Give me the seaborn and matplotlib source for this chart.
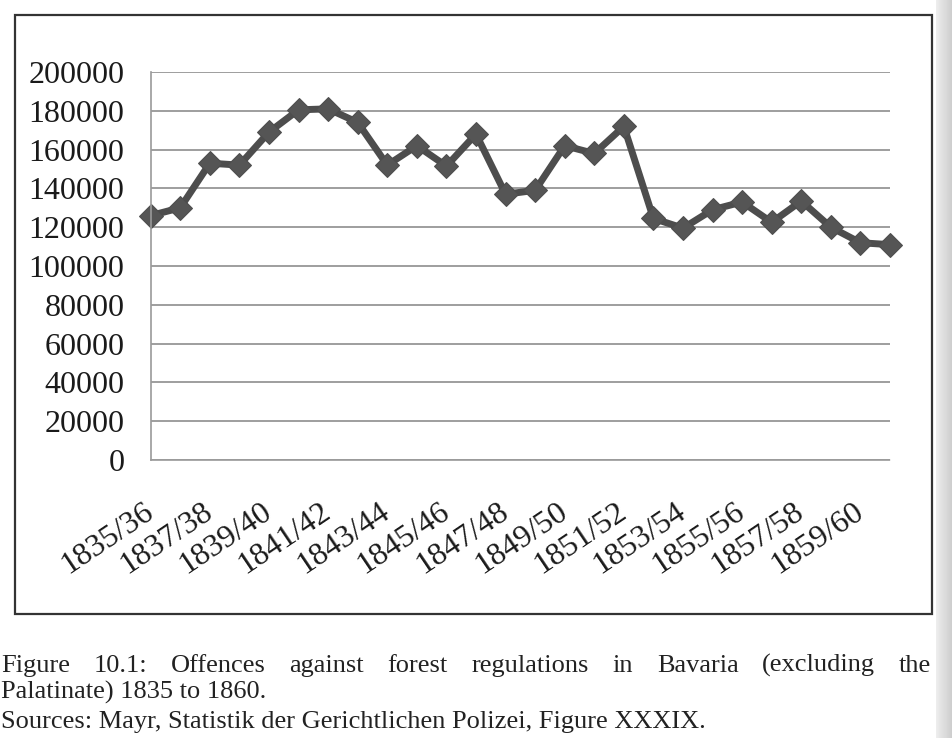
import numpy as np
import pandas as pd
import matplotlib
matplotlib.use("Agg")
import matplotlib.pyplot as plt
import matplotlib.transforms as mtransforms
import seaborn as sns

# ---- data -------------------------------------------------------------
periods = ["1835/36", "1836/37", "1837/38", "1838/39", "1839/40", "1840/41",
           "1841/42", "1842/43", "1843/44", "1844/45", "1845/46", "1846/47",
           "1847/48", "1848/49", "1849/50", "1850/51", "1851/52", "1852/53",
           "1853/54", "1854/55", "1855/56", "1856/57", "1857/58", "1858/59",
           "1859/60", "1860/61"]
offences = [126000, 130000, 153000, 152000, 169000, 180500, 181000, 174000,
            152000, 162000, 151500, 168000, 137000, 139000, 162000, 158000,
            172000, 124500, 119500, 129000, 133000, 122500, 133500, 120000,
            112000, 111000]
y_ticks = [0, 20000, 40000, 60000, 80000, 100000, 120000, 140000, 160000,
           180000, 200000]
caption_line1 = ("Figure 10.1: Offences against forest regulations in Bavaria "
                 "(excluding the")
caption_line2 = "Palatinate) 1835 to 1860."
caption_line3 = "Sources: Mayr, Statistik der Gerichtlichen Polizei, Figure XXXIX."

# ---- style ------------------------------------------------------------
sns.set_style("white")
plt.rcParams["font.family"] = ["Liberation Serif", "DejaVu Serif"]

W, H = 953, 738
fig = plt.figure(figsize=(W / 100, H / 100), dpi=100)
fig.patch.set_facecolor("white")

def fx(px):
    return px / W

def fy(py):
    return 1 - py / H

# chart frame
frame = plt.Rectangle((fx(15), fy(614)), fx(932) - fx(15), fy(15) - fy(614),
                      transform=fig.transFigure, fill=False,
                      edgecolor="#333333", linewidth=1.6)
fig.add_artist(frame)

left, right, top, bottom = 150.7, 890, 72, 460
ax = fig.add_axes([fx(left), fy(bottom), fx(right) - fx(left), fy(top) - fy(bottom)])
ax.set_facecolor("none")

df = pd.DataFrame({"period": np.arange(len(periods)), "offences": offences})
sns.lineplot(data=df, x="period", y="offences", ax=ax, color="#4d4d4d",
             linewidth=5, marker="D", markersize=12,
             markeredgecolor="#4d4d4d", markerfacecolor="#555555")
for ln in ax.lines:
    ln.set_clip_on(False)

ax.set_xlim(0, len(periods) - 1)
ax.set_ylim(0, 200000)
ax.set_yticks(y_ticks)
ax.set_yticklabels([str(v) for v in y_ticks])
ax.set_xticks(np.arange(len(periods)))
ax.set_xticklabels([p if i % 2 == 0 else "" for i, p in enumerate(periods)],
                   rotation=34, ha="right", va="top", rotation_mode="anchor")
ax.set_xlabel("")
ax.set_ylabel("")

ax.yaxis.grid(True, color="#969696", linewidth=1.3)
ax.xaxis.grid(False)
ax.set_axisbelow(True)
for s in ["top", "right"]:
    ax.spines[s].set_visible(False)
ax.spines["left"].set_color("#9a9a9a")
ax.spines["left"].set_linestyle((0, (1, 1)))
ax.spines["left"].set_linewidth(1.2)
ax.spines["bottom"].set_color("#9a9a9a")
ax.spines["bottom"].set_linestyle((0, (1, 1)))
ax.spines["bottom"].set_linewidth(1.2)

ax.tick_params(axis="y", direction="out", length=7, width=1.2, color="#9a9a9a",
               labelsize=23, pad=12, labelcolor="#1a1a1a")
ax.tick_params(axis="x", direction="out", length=9, width=1.0, color="#7a7a7a",
               labelsize=23, pad=18, labelcolor="#1a1a1a")
shift = mtransforms.ScaledTranslation(-8 / 100, 0, fig.dpi_scale_trans)
for lbl in ax.get_xticklabels():
    lbl.set_transform(lbl.get_transform() + shift)

# ---- caption (line 1 justified) --------------------------------------
cap_size = 19
words = caption_line1.split(" ")
txts = [fig.text(0, fy(672), w, fontsize=cap_size, color="#222222",
                 va="baseline", ha="left") for w in words]
fig.canvas.draw()
r = fig.canvas.get_renderer()
widths = [t.get_window_extent(r).width for t in txts]
x_start, x_end = 1.0, 931.0
gap = (x_end - x_start - sum(widths)) / (len(words) - 1)
x = x_start
for t, w in zip(txts, widths):
    t.set_x(fx(x))
    x += w + gap

fig.text(fx(1), fy(699), caption_line2, fontsize=cap_size, color="#222222",
         va="baseline", ha="left")
fig.text(fx(1), fy(728), caption_line3, fontsize=cap_size, color="#222222",
         va="baseline", ha="left")

# page gutter shading at right edge
gax = fig.add_axes([fx(936), 0, fx(953) - fx(936), 1])
grad = np.linspace(0.93, 0.80, 50).reshape(1, -1)
gax.imshow(grad, aspect="auto", cmap="gray", vmin=0, vmax=1,
           extent=[0, 1, 0, 1])
gax.set_axis_off()

fig.savefig("out.png", dpi=100, facecolor="white")
